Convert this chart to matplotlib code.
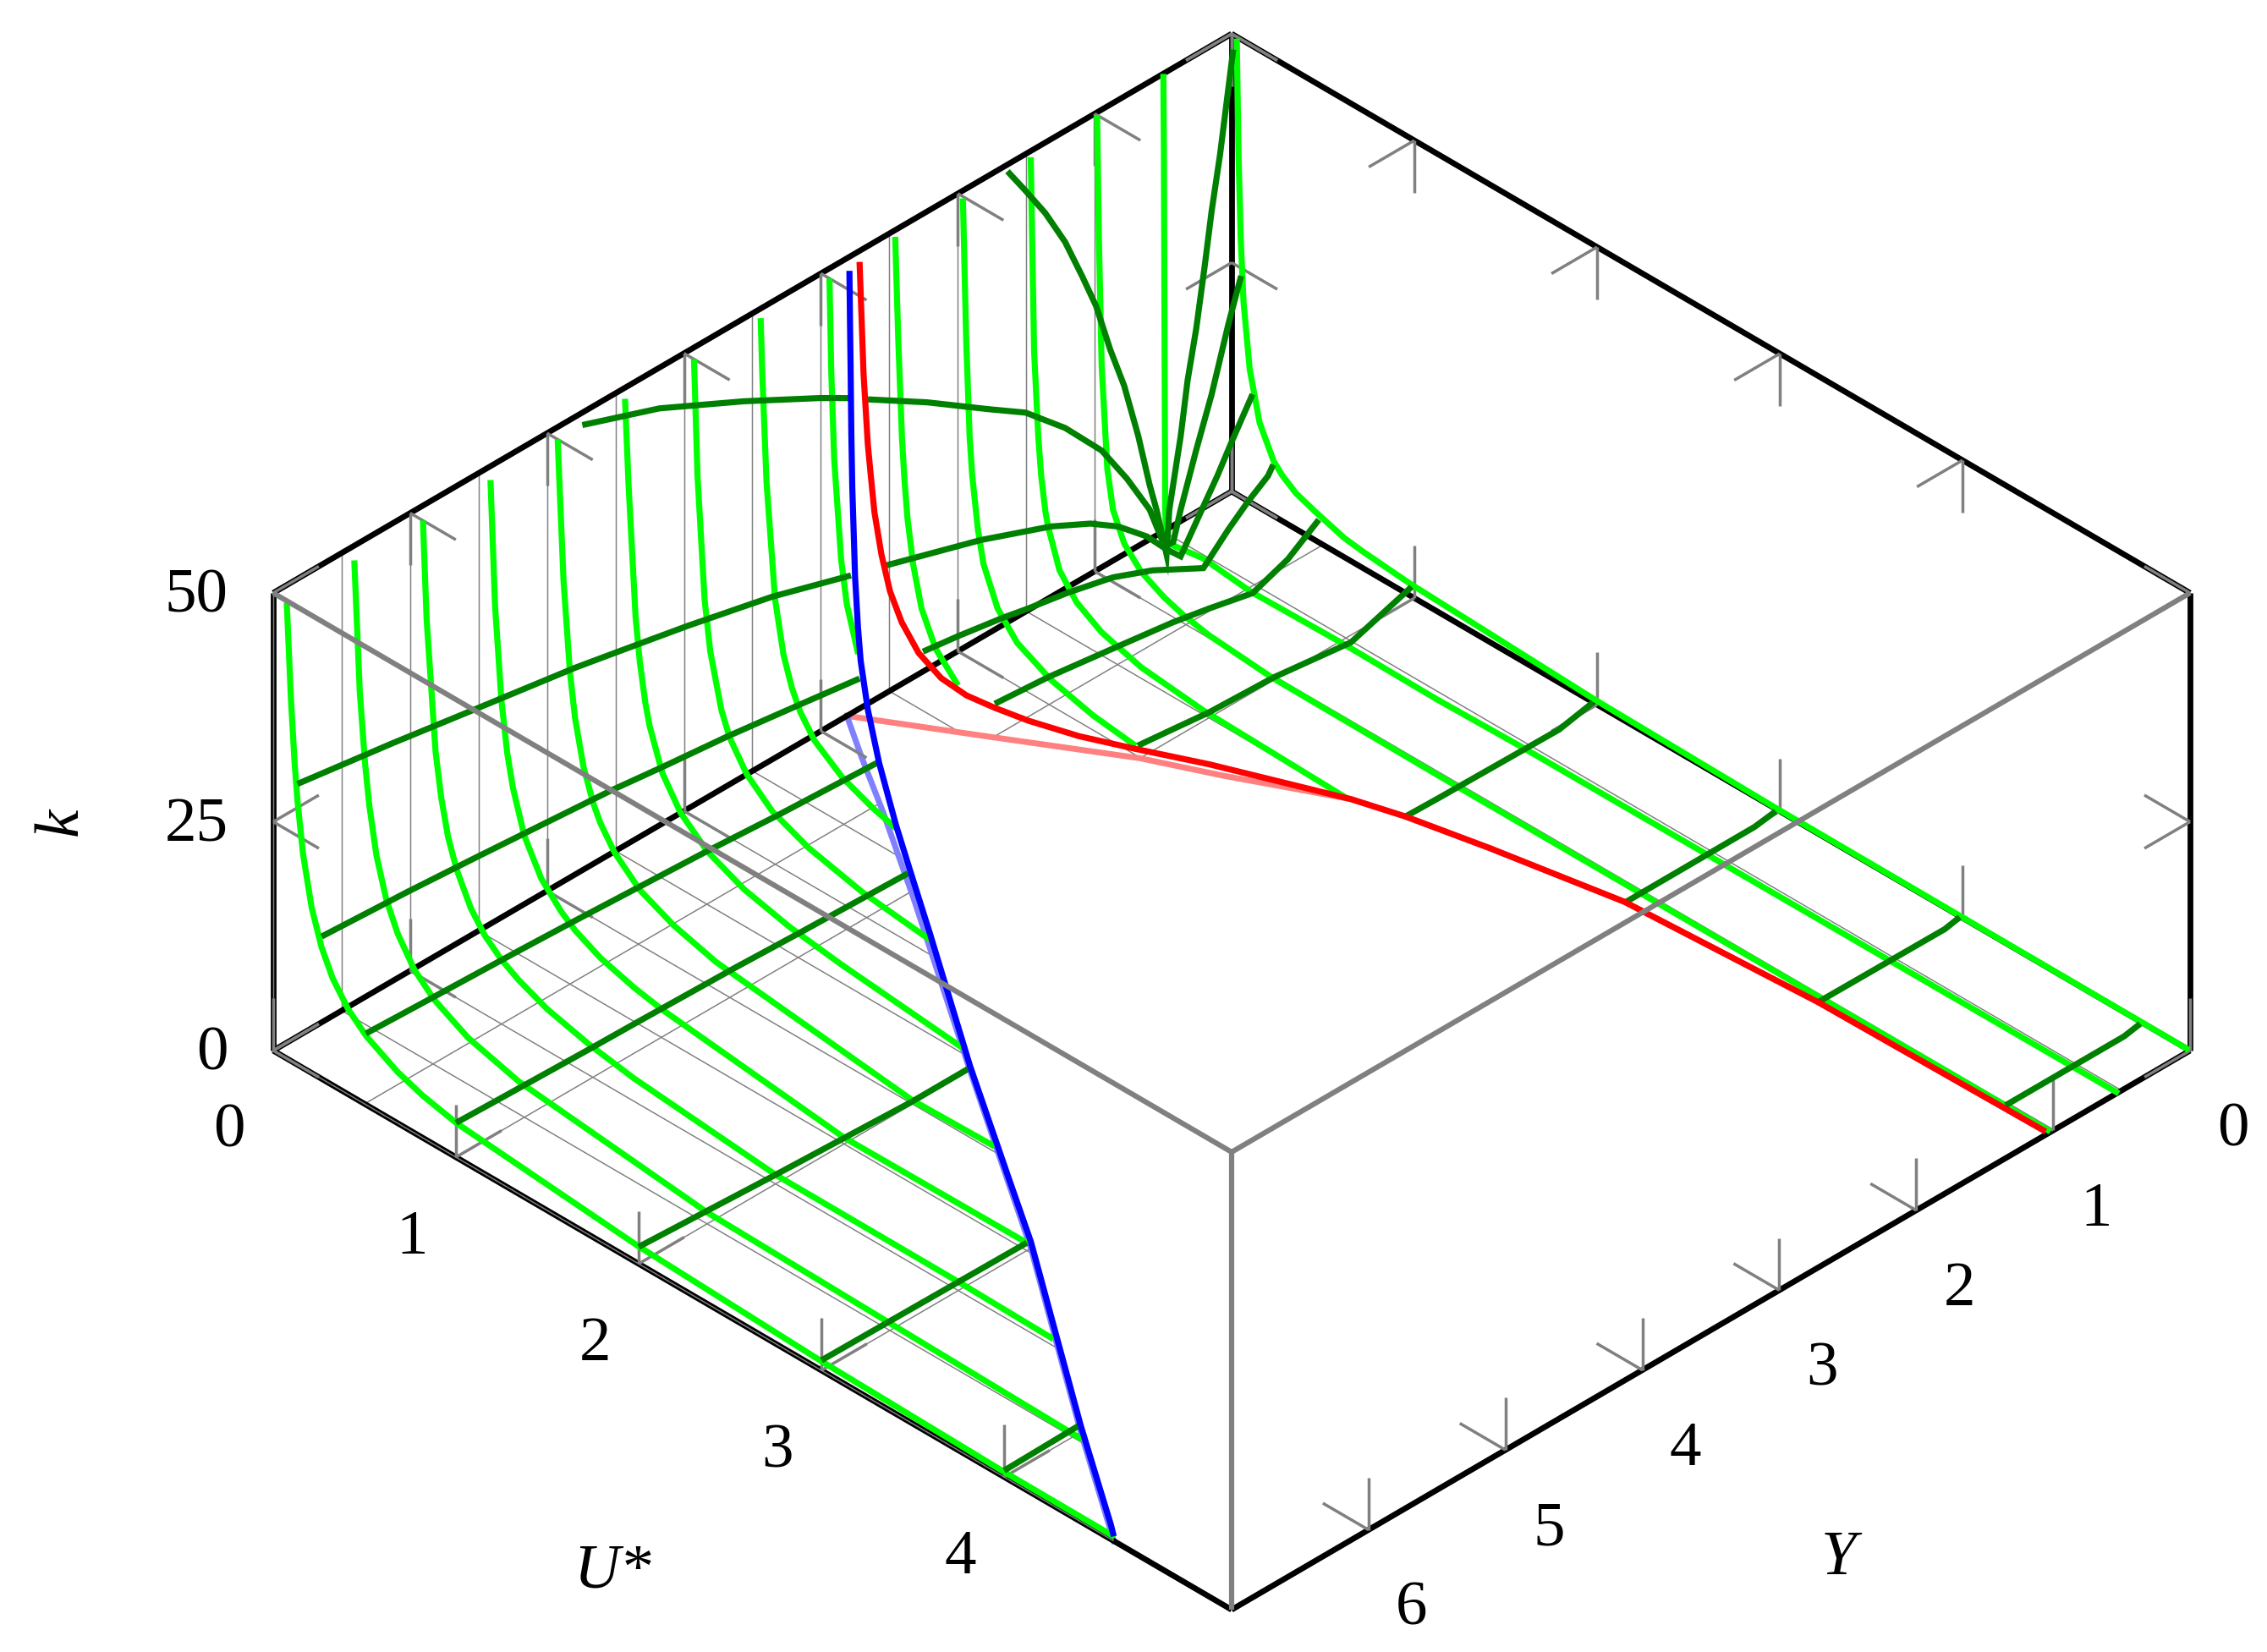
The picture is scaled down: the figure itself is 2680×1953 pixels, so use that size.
#!/usr/bin/python3
import matplotlib
matplotlib.use("Agg")
from matplotlib import pyplot as plt
from mpl_toolkits.mplot3d import proj3d
from mpl_toolkits.mplot3d.art3d import Poly3DCollection

plt.rcParams["font.family"] = ["Liberation Serif", "DejaVu Serif"]

u_max = 5.245
y_max = 7
k_max = 50

u_ticks = [0, 1, 2, 3, 4]
y_ticks = [0, 1, 2, 3, 4, 5, 6]
k_ticks = [0, 25, 50]
u_grid = [0.5, 1, 2, 3, 4]
y_grid = [0.5, 1, 1.5, 2, 2.5, 3, 3.5, 4, 4.5, 5, 5.5, 6, 6.5]

# courbes a Y constant (vert clair) : U, k
u_y00 = [0.028, 0.038, 0.05, 0.065, 0.099, 0.153, 0.23, 0.276, 0.353, 0.461, 0.616, 0.718, 0.977, 1.125, 1.993, 2.977, 5.24]
k_y00 = [49.8, 37.1, 28.1, 21.5, 14.5, 9.3, 6, 5, 3.9, 3.1, 2.1, 1.8, 1.3, 1.17, 0.4, 0.1, 0]
u_y05 = [0.001, 0.004, 0.011, 0.02, 0.218, 0.481, 0.977, 1.5, 1.963, 5.23]
k_y05 = [50, 41.7, 2.5, -1, -0.4, -1, -0.8, -0.9, -0.7, -0.5]
u_y10 = [0.013, 0.023, 0.038, 0.069, 0.1, 0.162, 0.255, 0.378, 0.48, 0.625, 0.968, 1.875, 5.23]
k_y10 = [50, 36.6, 22.9, 12, 7.9, 4.9, 2.9, 1.6, 0.9, 0.3, -0.3, -0.4, -0.3]
u_y15 = [0.0245, 0.043, 0.066, 0.082, 0.105, 0.12, 0.182, 0.275, 0.413, 0.63, 0.969, 1.76]
k_y15 = [49.9, 28.9, 19.8, 15.7, 12.1, 10.6, 6.6, 4.2, 2.5, 1.2, 0.45, 0]
u_y20 = [0.028, 0.046, 0.065, 0.079, 0.11, 0.14, 0.218, 0.325, 0.511, 0.742, 0.974]
k_y20 = [49.8, 34.5, 24.1, 20.1, 14.6, 11.2, 7.2, 4.7, 2.8, 1.6, 1.0]
u_y25 = [0.032, 0.049, 0.069, 0.083, 0.099, 0.13, 0.176, 0.253, 0.376]
k_y25 = [50, 38.9, 28.5, 24, 20.1, 15.4, 11.1, 7.6, 5]
u_y30 = [0.047, 0.057, 0.073, 0.111, 0.142, 0.204]
k_y30 = [50, 39.8, 30.5, 20, 15.5, 10.8]
u_y35 = [0.045, 0.054, 0.077, 0.124, 0.17, 0.216, 0.262, 0.339, 0.494, 0.663, 0.787]
k_y35 = [50, 44, 32.5, 20.2, 14.7, 11.6, 9.5, 7.3, 5, 3.6, 2.9]
u_y40 = [0.055, 0.074, 0.113, 0.144, 0.205, 0.251, 0.344, 0.483, 0.684, 0.977, 1.347]
k_y40 = [50, 37.5, 24.4, 19.1, 13.4, 10.9, 8, 5.6, 3.9, 2.5, 1.6]
u_y45 = [0.052, 0.071, 0.11, 0.133, 0.163, 0.187, 0.256, 0.356, 0.503, 0.704, 0.95, 1.228, 1.9]
k_y45 = [50, 41, 26.8, 22.2, 18.1, 15.8, 11.5, 8.3, 5.8, 4, 2.8, 2, 0.6]
u_y50 = [0.058, 0.09, 0.125, 0.153, 0.199, 0.253, 0.292, 0.369, 0.508, 0.693, 0.924, 2, 2.45]
k_y50 = [50, 35, 25.4, 20.7, 15.9, 12.5, 10.8, 8.5, 6, 4.3, 3, 0.4, 0.6]
u_y55 = [0.065, 0.09, 0.125, 0.157, 0.188, 0.25, 0.343, 0.45, 0.528, 0.667, 0.852, 1, 2, 3]
k_y55 = [50, 36.6, 26.6, 21.2, 17.8, 13.3, 9.7, 7.4, 6.2, 4.8, 3.7, 3.1, 0.7, 0.85]
u_y60 = [0.07, 0.09, 0.139, 0.17, 0.208, 0.255, 0.332, 0.409, 0.501, 0.594, 0.749, 0.98, 1.227, 2, 3, 3.52]
k_y60 = [50, 39.5, 25.6, 20.9, 17, 14, 10.7, 8.6, 7, 5.9, 4.55, 3.35, 2.5, 1.0, 0.95, 0.75]
u_y65 = [0.069, 0.099, 0.128, 0.151, 0.19, 0.244, 0.306, 0.398, 0.506, 0.691, 0.969, 2, 3, 4.05]
k_y65 = [50, 36, 28.5, 24.2, 19.2, 15, 12, 9.1, 7.1, 5.1, 3.55, 1.25, 0.8, 0.35]
u_y70 = [0.074, 0.097, 0.117, 0.133, 0.163, 0.21, 0.264, 0.325, 0.41, 0.51, 0.68, 0.82, 1.005, 1.998, 3, 3.995, 4.606]
k_y70 = [49.8, 39.5, 32.8, 28.8, 23.4, 18.1, 14.4, 11.7, 9.3, 7.5, 5.6, 4.6, 3.75, 1.9, 1, 0.55, 0.5]

bright_curves = [
	(0, u_y00, k_y00), (0.5, u_y05, k_y05), (1, u_y10, k_y10), (1.5, u_y15, k_y15),
	(2, u_y20, k_y20), (2.5, u_y25, k_y25), (3, u_y30, k_y30), (3.5, u_y35, k_y35),
	(4, u_y40, k_y40), (4.5, u_y45, k_y45), (5, u_y50, k_y50), (5.5, u_y55, k_y55),
	(6, u_y60, k_y60), (6.5, u_y65, k_y65), (7, u_y70, k_y70),
]

# courbes a U constant (vert fonce) : Y, k, une partie de chaque cote de la zone blanche
y_u003 = [1.679, 1.546, 1.402, 1.258, 1.134, 1.031, 0.929, 0.826, 0.723, 0.641, 0.59, 0.517, 0.497, 0.414, 0.363, 0.301, 0.24, 0.188, 0.126, 0.03]
k_u003 = [50, 46.7, 43, 38.6, 33.8, 29.6, 24, 19.1, 12.7, 6.7, 3.5, -2, 2.7, 10, 15.7, 20.7, 26.9, 32.6, 38.3, 48.9]
y_u006_a = [4.826, 4.262, 3.646, 3.09, 2.873]
k_u006_a = [50.1, 47, 42.4, 37.9, 36]
y_u006_b = [2.74, 2.307, 1.855, 1.588, 1.299, 1.032, 0.847, 0.682, 0.573, 0.51, 0.456, 0.343, 0.23, 0.106, 0.014]
k_u006_b = [34.7, 30.6, 25.9, 23.2, 19, 14.2, 9.5, 4.7, -0.25, -0.35, 2.7, 8.2, 13.3, 20, 24.4]
y_u012_a = [6.99, 6.3, 5.716, 4.963, 4.675, 4.14, 3.523, 2.947]
k_u012_a = [30.5, 28.9, 27.4, 25.5, 24.6, 22.9, 20.7, 18]
y_u012_b = [2.7, 2.0, 1.486, 1.198, 0.994, 0.786, 0.642, 0.539, 0.385, 0.272, 0.168, 0.014]
k_u012_b = [16.9, 13.6, 10.6, 8.4, 6.3, 3.4, 0.73, -0.93, 2.8, 5.5, 8.3, 12.2]
y_u025_a = [6.98, 6.346, 5.852, 5.317, 4.863, 4.492, 4.018, 3.504, 3.051]
k_u025_a = [15.2, 14.6, 14, 13.3, 12.7, 12, 11.2, 10.1, 9.1]
y_u025_b = [2.588, 2.331, 2.002, 1.817, 1.529, 1.2, 0.912, 0.54, 0.356, 0.212, 0.068, 0.03]
k_u025_b = [8, 7.45, 6.6, 6, 5.2, 4, 2.25, -0.75, 1.9, 3.7, 5.2, 6.1]
y_u050_a = [6.99, 6.53, 5.87, 5.46, 4.99, 4.517, 3.98, 3.26]
k_u050_a = [7.6, 7.3, 6.9, 6.6, 6.2, 5.8, 5.2, 4.6]
y_u050_b = [2.397, 2.006, 1.512, 1.1, 0.833, 0.514, 0.257, 0.031]
k_u050_b = [3.55, 3.05, 2, 1.1, 0.3, -0.8, 0.65, 3]
y_u100_a = [7, 6.706, 6.027, 5.698, 4.95, 4.48, 3.7]
k_u100_a = [3.75, 3.6, 3.3, 3.2, 2.9, 2.6, 2.2]
y_u100_b = [2.02, 1.767, 1.5, 1.027, 0.463, 0.02]
k_u100_b = [1.5, 1.07, 0.6, 0.3, -0.8, 1.4]
y_u200_a = [7, 6, 5.01, 4.58]
k_u200_a = [1.85, 1.0, 0.3, 0.3]
y_u200_b = [1.41, 1.167, 0.278, 0.03]
k_u200_b = [0, -0.1, -0.3, 0.5]
y_u300_a = [7, 5.5]
k_u300_a = [1.1, 0.85]
y_u300_b = [1.13, 0.185, 0.03]
k_u300_b = [-0.1, -0.1, 0.26]
y_u400_a = [7, 6.44]
k_u400_a = [0.7, 0.85]
y_u400_b = [1.055, 0.13, 0.02]
k_u400_b = [0, -0.1, 0.25]
y_u500_b = [1.02, 0.154, 0.037]
k_u500_b = [0.07, 0.05, 0.4]

dark_curves = [
	(0.03125, y_u003, k_u003), (0.0625, y_u006_a, k_u006_a), (0.0625, y_u006_b, k_u006_b),
	(0.125, y_u012_a, k_u012_a), (0.125, y_u012_b, k_u012_b), (0.25, y_u025_a, k_u025_a),
	(0.25, y_u025_b, k_u025_b), (0.5, y_u050_a, k_u050_a), (0.5, y_u050_b, k_u050_b),
	(1, y_u100_a, k_u100_a), (1, y_u100_b, k_u100_b), (2, y_u200_a, k_u200_a),
	(2, y_u200_b, k_u200_b), (3, y_u300_a, k_u300_a), (3, y_u300_b, k_u300_b),
	(4, y_u400_a, k_u400_a), (4, y_u400_b, k_u400_b), (5, y_u500_b, k_u500_b),
]

# courbes limites
u_red = [0.043, 0.0568, 0.071, 0.081, 0.0937, 0.1176, 0.1465, 0.1865, 0.244, 0.321, 0.407, 0.503, 0.618, 0.791, 0.983, 1.233, 1.77, 2, 2.38, 3, 4, 5.23]
y_red = [2.775, 2.764, 2.752, 2.744, 2.734, 2.715, 2.691, 2.659, 2.612, 2.55, 2.48, 2.403, 2.309, 2.169, 2.014, 1.81, 1.49, 1.4, 1.29, 1.134, 1.055, 1.034]
k_red = [49.8, 37.6, 30, 26.7, 22.7, 18.2, 14.3, 11.1, 8, 5.6, 4.1, 3.2, 2.3, 1.4, 0.9, 0.35, 0, 0, 0, 0, 0, 0]
u_blue = [0.04, 0.05, 0.058, 0.07, 0.085, 0.128, 0.173, 0.217, 0.329, 0.507, 0.773, 1, 1.307, 2, 2.64, 3, 4, 4.54, 4.6]
y_blue = [2.845, 2.854, 2.86, 2.871, 2.884, 2.921, 2.96, 2.999, 3.096, 3.251, 3.483, 3.68, 3.95, 4.58, 5.15, 5.47, 6.44, 6.94, 7]
k_blue = [49.4, 44, 38.8, 32.2, 26.6, 17.6, 13, 10.2, 7, 4.6, 2.95, 2.2, 1.5, 0.5, 0.6, 0.7, 0.7, 0.5, 0.5]
u_pink = [0, 0.5, 1, 1.31, 1.77, 2, 2.38, 3, 4, 5.23]
y_pink = [2.81, 2.41, 2.005, 1.81, 1.49, 1.4, 1.29, 1.134, 1.055, 1.034]
u_pale = [0, 0.24, 0.55, 1.04, 2, 2.64, 3, 4, 4.6]
y_pale = [2.81, 3.02, 3.28, 3.71, 4.58, 5.15, 5.47, 6.44, 7]

px = 1/2.78  # points par pixel a 200 dpi
W, H = 2680, 1953

fig = plt.figure(figsize=(W/200, H/200), dpi=200)
ax = fig.add_axes([100/W, 50/H, 1800/W, 1800/H], projection="3d", proj_type="ortho", computed_zorder=False)
ax.set_xlim(0, u_max, view_margin=0)
ax.set_ylim(y_max, 0, view_margin=0)
ax.set_zlim(0, k_max, view_margin=0)
ax.set_box_aspect((1602, 1602, 666), zoom=0.6)
ax.view_init(elev=35.69, azim=-45)
ax.set_axis_off()


def segment(p, q, color, lw, z):
	ax.plot([p[0], q[0]], [p[1], q[1]], [p[2], q[2]], color=color, lw=lw*px, zorder=z, solid_capstyle="butt")


# grille
for y in y_grid:
	segment((0, y, 0), (u_max, y, 0), "gray", 1.5, 1)
	segment((0, y, 0), (0, y, k_max), "gray", 1.5, 1)
for u in u_grid:
	segment((u, 0, 0), (u, y_max, 0), "gray", 1.5, 1)

# zone blanche et ses bords pales
verts = [(u, y, 0) for u, y in zip(u_pink, y_pink)] + [(u_max, y_pink[-1], 0), (u_max, y_max, 0)]
verts += [(u, y, 0) for u, y in zip(u_pale[::-1], y_pale[::-1])]
zone = Poly3DCollection([verts], facecolors="white", edgecolors="none")
ax.add_collection3d(zone, autolim=False)
zone.set_zorder(2)
ax.plot(u_pink, y_pink, [0]*len(u_pink), color="#FF8080", lw=7*px, zorder=3)
ax.plot(u_pale, y_pale, [0]*len(u_pale), color="#8080FF", lw=7*px, zorder=3)

# cadre noir
black_edges = [
	((0, y_max, 0), (u_max, y_max, 0)), ((u_max, y_max, 0), (u_max, 0, 0)),
	((u_max, 0, 0), (0, 0, 0)), ((0, 0, 0), (0, y_max, 0)),
	((0, y_max, k_max), (0, 0, k_max)), ((0, 0, k_max), (u_max, 0, k_max)),
	((0, y_max, 0), (0, y_max, k_max)), ((0, 0, 0), (0, 0, k_max)), ((u_max, 0, 0), (u_max, 0, k_max)),
]
for p, q in black_edges:
	segment(p, q, "black", 6.8, 4)
segment((0, y_max, 0), (u_pale[-1], y_max, 0), "gray", 1.5, 5)
segment((0, y_max, 0), (0, y_max, k_max), "gray", 1.5, 5)

# graduations
dk, du, dy = 5.7, 0.25, 0.333
for k in k_ticks:
	segment((0, y_max, k), (du, y_max, k), "gray", 3.5, 5)
	segment((0, y_max, k), (0, y_max-dy, k), "gray", 3.5, 5)
	segment((0, 0, k), (du, 0, k), "gray", 3.5, 5)
	segment((0, 0, k), (0, dy, k), "gray", 3.5, 5)
	segment((u_max, 0, k), (u_max-du, 0, k), "gray", 3.5, 5)
	segment((u_max, 0, k), (u_max, dy, k), "gray", 3.5, 5)
for u in u_ticks:
	segment((u, y_max, 0), (u, y_max, dk), "gray", 3.5, 5)
	segment((u, y_max, 0), (u, y_max-dy, 0), "gray", 3.5, 5)
	segment((u, 0, 0), (u, 0, dk), "gray", 3.5, 5)
	segment((u, 0, 0), (u, dy, 0), "gray", 3.5, 5)
	segment((u, 0, k_max), (u, 0, k_max-dk), "gray", 3.5, 5)
	segment((u, 0, k_max), (u, dy, k_max), "gray", 3.5, 5)
for y in y_ticks:
	segment((u_max, y, 0), (u_max, y, dk), "gray", 3.5, 5)
	segment((u_max, y, 0), (u_max-du, y, 0), "gray", 3.5, 5)
	segment((0, y, 0), (0, y, dk), "gray", 3.5, 5)
	segment((0, y, 0), (du, y, 0), "gray", 3.5, 5)
	segment((0, y, k_max), (0, y, k_max-dk), "gray", 3.5, 5)
	segment((0, y, k_max), (du, y, k_max), "gray", 3.5, 5)

# courbes
for y, us, ks in bright_curves:
	ax.plot(us, [y]*len(us), ks, color="#00FF00", lw=7.2*px, zorder=6, solid_capstyle="butt")
for u, ys, ks in dark_curves:
	ax.plot([u]*len(ys), ys, ks, color="#008000", lw=7.2*px, zorder=7, solid_capstyle="butt", solid_joinstyle="miter")
ax.plot(u_red, y_red, k_red, color="#FF0000", lw=7.2*px, zorder=8, solid_capstyle="butt")
ax.plot(u_blue, y_blue, k_blue, color="#0000FF", lw=7.2*px, zorder=8, solid_capstyle="butt")

# aretes avant grises
segment((0, y_max, k_max), (u_max, y_max, k_max), "gray", 6.2, 9)
segment((u_max, 0, k_max), (u_max, y_max, k_max), "gray", 6.2, 9)
segment((u_max, y_max, 0), (u_max, y_max, k_max), "gray", 6.2, 9)

# cale les axes sur les coins de la boite
fig.canvas.draw()


def to_px(u, y, k):
	xp, yp, _ = proj3d.proj_transform(u, y, k, ax.M)
	return ax.transData.transform((xp, yp))


p0 = to_px(0, y_max, 0)
p1 = to_px(u_max, 0, 0)
s = (2589-323)/(p1[0]-p0[0])
box = ax.get_position()
left, bottom, size = box.x0*W, box.y0*H, box.width*W
new_left = 323-(p0[0]-left)*s
new_bottom = (H-1242)-(p0[1]-bottom)*s
ax.set_position([new_left/W, new_bottom/H, size*s/W, size*s/H])


def label(u, y, k, txt, **kw):
	p = to_px(u, y, k)
	fig.text(p[0]/W, p[1]/H, txt, fontsize=27, va="center", **kw)


# textes
for u in u_ticks:
	label(u, y_max+0.32, -6.1, str(u), ha="center")
for y in y_ticks:
	label(u_max+0.236, y, -6.0, str(y), ha="center")
for k in k_ticks:
	label(-0.123, y_max+0.164, k-0.45, str(k), ha="right")
label(-0.58, y_max+0.773, 25, "k", style="italic", rotation=90, ha="center")
label(3.375, 9.03, 0, "U*", style="italic", ha="center")
label(6.67, 4.47, 0, "Y", style="italic", ha="center")

fig.savefig("out.png", dpi=200)
